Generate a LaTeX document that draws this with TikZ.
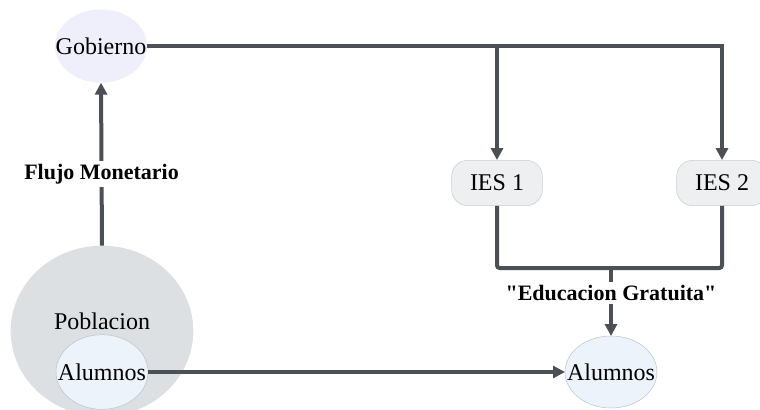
\documentclass[tikz,border=0pt]{standalone}
\usepackage{fontspec}
\setmainfont{Liberation Serif}
\usepackage{xcolor}
\usepackage{tikz}
\usetikzlibrary{positioning, shapes.geometric, arrows.meta}

\definecolor{flowgray}{HTML}{4B4F56}
\definecolor{govfill}{HTML}{EEEFFB}
\definecolor{popfill}{HTML}{DDE0E3}
\definecolor{iesfill}{HTML}{EDEFF1}
\definecolor{iesline}{HTML}{C9CDD2}
\definecolor{stufill}{HTML}{EDF3FB}
\definecolor{stuline}{HTML}{BFC4CA}

\begin{document}
\begin{tikzpicture}[
        x=0.75pt, y=-0.75pt,
        blob/.style={ellipse, inner sep=0pt, outer sep=0pt},
        word/.style={font=\fontsize{18}{20}\selectfont, inner sep=0pt},
        inst/.style={rectangle, rounded corners=12pt, draw=iesline, fill=iesfill, minimum width=68pt, minimum height=34pt, font=\fontsize{18}{20}\selectfont},
        tag/.style={font=\bfseries\fontsize{16.5}{19}\selectfont, fill=white, inner sep=2pt},
        link/.style={draw=flowgray, line width=3pt},
        arrow/.style={link, -{Triangle[length=9pt, width=9pt]}},
    ]
        \useasboundingbox (0,0) rectangle (760,410);

        % Gobierno
        \node[blob, fill=govfill, minimum width=69pt, minimum height=55pt, label={[word]center:Gobierno}] (gob) at (101,46) {};

        % Poblacion and its students
        \node[blob, fill=popfill, minimum width=137pt, minimum height=128pt, label={[word, yshift=7pt]center:Poblacion}] (pob) at (102,331) {};
        \node[blob, fill=stufill, draw=stuline, minimum width=69pt, minimum height=56pt, label={[word]center:Alumnos}] (alu1) at (102,372) {};

        % Institutions
        \node[inst] (ies1) at (497,183) {IES 1};
        \node[inst] (ies2) at (722,183) {IES 2};

        % Students in IES
        \node[blob, fill=stufill, draw=stuline, minimum width=69pt, minimum height=54pt, label={[word]center:Alumnos}] (alu2) at (611,372) {};

        % Label of the joined flow
        \coordinate (join) at (611,268);
        \node[tag] (edu) at (611,293) {\textquotedbl Educacion Gratuita\textquotedbl};

        % Arrows
        \draw[arrow] (pob.north) -- node[tag, pos=0.44] {Flujo Monetario} (gob.south);
        \draw[arrow] (gob.east) -| (ies2.north);
        \draw[arrow] (gob.east -| ies1.north) -- (ies1.north);
        \draw[link, rounded corners=2pt] (ies1.south) -- (ies1.south |- join) -- (ies2.south |- join) -- (ies2.south);
        \draw[link] (join) -- (edu.north);
        \draw[arrow] (edu.south) -- (alu2.north);
        \draw[arrow] (alu1.east) -- (alu2.west);

    \end{tikzpicture}
\end{document}
